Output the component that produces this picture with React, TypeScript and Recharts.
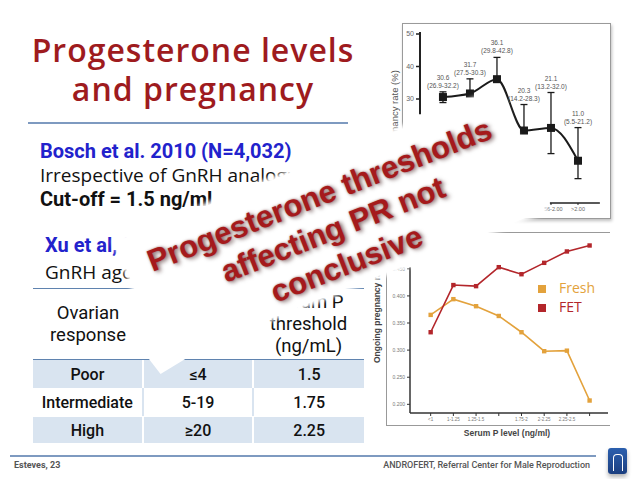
import React from "react";
import {
  LineChart,
  Line,
  XAxis,
  YAxis,
  ErrorBar,
  LabelList,
  ReferenceLine,
  Legend,
} from "recharts";

// Bosch et al. 2010 - pregnancy rate by P bin (top right panel)
const boschBins = ["≤0.50", "0.51-0.80", "0.81-1.10", "1.11-1.55", "1.56-2.00", ">2.00"];
const boschPR = [30.6, 31.7, 36.1, 20.3, 21.1, 11.0];
const boschCI = ["(26.9-32.2)", "(27.5-30.3)", "(29.8-42.8)", "(14.2-28.3)", "(13.2-32.0)", "(5.5-21.2)"];
// whiskers as drawn in the figure
const boschLow = [28.9, 31.7, 36.1, 20.3, 13.2, 5.5];
const boschHigh = [32.2, 36.2, 42.8, 28.3, 32.0, 21.2];

// Xu et al. - ongoing pregnancy rate by serum P (bottom right panel)
const pBins = ["<1", "1-1.25", "1.25-1.5", "1.5-1.75", "1.75-2", "2-2.25", "2.25-2.5", ">2.5"];
const pTickLabels = ["<1", "1-1.25", "1.25-1.5", "", "1.75-2", "2-2.25", "2.25-2.5", ""];
const fresh = [0.365, 0.394, 0.381, 0.363, 0.333, 0.298, 0.299, 0.207];
const fet = [0.333, 0.42, 0.418, 0.453, 0.44, 0.461, 0.482, 0.493];
const seriesOrder = ["Fresh", "FET"];

// table
const responses = ["Poor", "Intermediate", "High"];
const oocytes = ["≤4", "5-19", "≥20"];
const thresholds = ["1.5", "1.75", "2.25"];

const boschRows = boschPR.map((pr, i) => ({
  i,
  pr,
  err: [pr - boschLow[i], boschHigh[i] - pr],
  top: boschHigh[i],
}));

const pRows = pBins.map((b, i) => ({ i, bin: b, fresh: fresh[i], fet: fet[i] }));

const chartFont = "'Liberation Sans', Arial, sans-serif";

const blackSquare = (p: any) => (
  <rect key={`b${p.index}`} x={p.cx - 4} y={p.cy - 4} width={8} height={8} fill="#1a1a1a" />
);

const smallSquare = (color: string) => (p: any) => (
  <rect key={`${color}${p.index}`} x={p.cx - 2.2} y={p.cy - 2.2} width={4.4} height={4.4} fill={color} />
);

const ciLabel = (p: any) => {
  const { x, y, index } = p;
  return (
    <g key={`l${index}`} fontFamily={chartFont} fontSize={6.5} fill="#555">
      <text x={x} y={y - 12} textAnchor="middle">{boschPR[index].toFixed(1)}</text>
      <text x={x} y={y - 4} textAnchor="middle">{boschCI[index]}</text>
    </g>
  );
};

const abs = (l: number, t: number, extra: React.CSSProperties = {}): React.CSSProperties => ({
  position: "absolute",
  left: l,
  top: t,
  whiteSpace: "nowrap",
  ...extra,
});

const bodyFont = "'Open Sans', sans-serif";
const boldFont = "Roboto, sans-serif";

export default function App() {
  const rowBg = ["#D9E4F0", "#ffffff", "#D9E4F0"];
  return (
    <div
      style={{
        position: "absolute",
        left: 0,
        top: 0,
        width: 638,
        height: 479,
        overflow: "hidden",
        background: "#fff",
        fontFamily: bodyFont,
      }}
    >
      {/* title */}
      <div
        style={abs(0, 30, {
          width: 386,
          textAlign: "center",
          fontSize: 32,
          letterSpacing: 1,
          lineHeight: "39px",
          fontWeight: 600,
          color: "#9E1B1E",
        })}
      >
        Progesterone levels
        <br />
        and pregnancy
      </div>
      <div style={abs(28, 122, { width: 320, height: 2, background: "#7E9AC0" })} />

      {/* text block */}
      <div style={abs(40, 139, { fontFamily: boldFont, fontWeight: 700, fontSize: 20, lineHeight: "24px", color: "#2222CC" })}>
        Bosch et al. 2010 (N=4,032)
      </div>
      <div style={abs(40, 163, { fontSize: 19, lineHeight: "24px", color: "#111" })}>
        Irrespective of GnRH analogue
      </div>
      <div style={abs(40, 187, { fontFamily: boldFont, fontWeight: 700, fontSize: 20, lineHeight: "24px", color: "#111" })}>
        Cut-off = 1.5 ng/ml
      </div>
      <div style={abs(45, 233, { fontFamily: boldFont, fontWeight: 700, fontSize: 20, lineHeight: "24px", color: "#2222CC" })}>
        Xu et al, 2012
      </div>
      <div style={abs(45, 260, { fontSize: 19, lineHeight: "24px", color: "#111" })}>
        GnRH agonist
      </div>

      {/* table */}
      <div style={abs(33, 288, { width: 331 })}>
        <div
          style={{
            display: "flex",
            height: 70,
            borderTop: "1.5px solid #5F83AF",
            borderBottom: "1.5px solid #5F83AF",
            fontFamily: boldFont,
            fontSize: 18.5,
            lineHeight: "22px",
            color: "#111",
          }}
        >
          {[["Ovarian", "response"], ["Oocytes"], ["Serum P", "threshold", "(ng/mL)"]].map((h, k) => (
            <div
              key={k}
              style={{
                width: k === 2 ? 111 : 110,
                display: "flex",
                flexDirection: "column",
                alignItems: "center",
                justifyContent: "center",
              }}
            >
              {h.map((s) => (
                <span key={s}>{s}</span>
              ))}
            </div>
          ))}
        </div>
        {responses.map((r, k) => (
          <div
            key={r}
            style={{
              display: "flex",
              height: k === 2 ? 27 : 28,
              background: rowBg[k],
              fontFamily: boldFont,
              fontWeight: 500,
              fontSize: 16,
              color: "#111",
            }}
          >
            {[r, oocytes[k], thresholds[k]].map((c, j) => (
              <div
                key={j}
                style={{
                  width: j === 2 ? 111 : 110,
                  display: "flex",
                  alignItems: "center",
                  justifyContent: "center",
                  borderLeft: j === 0 ? "none" : `2px solid ${k === 1 ? "#D9E4F0" : "#fff"}`,
                  borderTop: k === 2 ? "1px solid #fff" : "none",
                }}
              >
                {c}
              </div>
            ))}
          </div>
        ))}
      </div>

      {/* top right figure frame */}
      <div
        style={abs(402, 23, {
          width: 207,
          height: 194,
          border: "1.5px solid #9a9a9a",
          boxShadow: "1px 2px 3px rgba(0,0,0,0.25)",
          background: "#fff",
        })}
      />
      <div
        style={abs(389, 152, {
          fontFamily: chartFont,
          fontSize: 9.5,
          color: "#555",
          transform: "rotate(-90deg)",
          transformOrigin: "0 0",
        })}
      >
        Pregnancy rate (%)
      </div>
      <div style={abs(380, 20)}>
        <LineChart
          width={230}
          height={200}
          data={boschRows}
          margin={{ top: 14, right: 5, bottom: 5, left: 0 }}
        >
          <XAxis
            type="number"
            dataKey="i"
            domain={[-0.85, 6]}
            ticks={[4, 5]}
            tickFormatter={(v) => boschBins[v]}
            axisLine={false}
            tickSize={2}
            tickLine={{ stroke: "#222" }}
            tick={{ fontSize: 5.5, fill: "#666", fontFamily: chartFont }}
            height={12}
            interval={0}
          />
          <YAxis
            type="number"
            domain={[-2, 50]}
            ticks={[30, 40, 50]}
            axisLine={false}
            tickSize={4}
            tickLine={{ stroke: "#222", strokeWidth: 1.5 }}
            tick={{ fontSize: 7, fill: "#666", fontFamily: chartFont }}
            width={40}
          />
          <ReferenceLine
            segment={[{ x: -0.85, y: 25.3 }, { x: -0.85, y: 50.6 }]}
            stroke="#222"
            strokeWidth={2}
            ifOverflow="visible"
          />
          <ReferenceLine
            segment={[{ x: 3.96, y: -2 }, { x: 5.81, y: -2 }]}
            stroke="#222"
            strokeWidth={1.5}
            ifOverflow="visible"
          />
          <Line
            dataKey="pr"
            type="monotone"
            stroke="#1a1a1a"
            strokeWidth={2}
            dot={blackSquare}
            activeDot={false}
            isAnimationActive={false}
          >
            <ErrorBar dataKey="err" width={3.5} strokeWidth={1.3} stroke="#1a1a1a" direction="y" />
          </Line>
          <Line dataKey="top" stroke="none" dot={false} activeDot={false} isAnimationActive={false}>
            <LabelList content={ciLabel} />
          </Line>
        </LineChart>
      </div>

      {/* bottom right figure */}
      <div
        style={abs(386, 232, {
          width: 223,
          height: 192,
          borderTop: "1.5px solid #999",
          borderLeft: "1.5px solid #999",
          borderBottom: "1.5px solid #999",
        })}
      />
      <div
        style={abs(372, 363, {
          fontFamily: chartFont,
          fontWeight: 700,
          fontSize: 8.5,
          color: "#444",
          transform: "rotate(-90deg)",
          transformOrigin: "0 0",
        })}
      >
        Ongoing pregnancy rate
      </div>
      <div style={abs(457, 428, { width: 100, textAlign: "center", fontFamily: chartFont, fontWeight: 700, fontSize: 8.5, color: "#444" })}>
        Serum P level (ng/ml)
      </div>
      <div style={abs(370, 225)}>
        <LineChart
          width={240}
          height={215}
          data={pRows}
          margin={{ top: 16.7, right: 2, bottom: 17, left: 0 }}
        >
          <XAxis
            type="number"
            dataKey="i"
            domain={[-0.91, 7.81]}
            ticks={[0, 1, 2, 3, 4, 5, 6, 7]}
            tickFormatter={(v) => pTickLabels[v]}
            axisLine={{ stroke: "#333", strokeWidth: 1.5 }}
            tickLine={{ stroke: "#333" }}
            tickSize={3}
            tick={{ fontSize: 4.5, fill: "#777", fontFamily: chartFont }}
            height={10}
            interval={0}
          />
          <YAxis
            type="number"
            domain={[0.184, 0.5]}
            ticks={[0.2, 0.25, 0.3, 0.35, 0.4, 0.45]}
            tickFormatter={(v) => Number(v).toFixed(3)}
            axisLine={false}
            tickSize={3}
            tickLine={{ stroke: "#333" }}
            tick={{ fontSize: 5, fill: "#777", fontFamily: chartFont }}
            width={40}
          />
          <ReferenceLine
            segment={[{ x: -0.91, y: 0.184 }, { x: -0.91, y: 0.453 }]}
            stroke="#333"
            strokeWidth={1.5}
            ifOverflow="visible"
          />
          <Legend
            layout="vertical"
            align="center"
            verticalAlign="middle"
            iconType="square"
            iconSize={8}
            itemSorter={(item: any) => seriesOrder.indexOf(item.value)}
            formatter={(value) => <span style={{ marginLeft: 9 }}>{value}</span>}
            wrapperStyle={{ left: 168, top: 53, width: 70, fontSize: 14, lineHeight: "19px", fontFamily: bodyFont }}
          />
          <Line
            dataKey="fresh"
            name="Fresh"
            stroke="#E3A23C"
            strokeWidth={1.6}
            dot={smallSquare("#E3A23C")}
            activeDot={false}
            isAnimationActive={false}
          />
          <Line
            dataKey="fet"
            name="FET"
            stroke="#B3262B"
            strokeWidth={1.6}
            dot={smallSquare("#B3262B")}
            activeDot={false}
            isAnimationActive={false}
          />
        </LineChart>
      </div>

      {/* white callout behind the stamp */}
      <div
        style={abs(330.4 - 205, 226 - 64, {
          width: 410,
          height: 128,
          background: "#fff",
          transform: "rotate(-21.5deg)",
          boxShadow: "0 0 4px 3px #fff",
        })}
      />
      <div
        style={abs(142, 350, {
          width: 58,
          height: 24,
          background: "#fff",
          clipPath: "polygon(0 0, 100% 0, 32% 100%)",
        })}
      />
      <div
        style={abs(333 - 220, 229 - 55.5, {
          width: 440,
          height: 111,
          textAlign: "center",
          fontFamily: "'Liberation Sans', Arial, sans-serif",
          fontWeight: 700,
          fontSize: 31,
          lineHeight: "37px",
          color: "#A51A1C",
          transform: "rotate(-21.5deg)",
          textShadow: "2px 2px 4px rgba(40,0,0,0.55), 0 0 2px rgba(120,0,0,0.5)",
        })}
      >
        Progesterone thresholds
        <br />
        affecting PR not
        <br />
        conclusive
      </div>

      {/* footer */}
      <div style={abs(10, 455, { width: 586, height: 2, background: "#7E9AC0" })} />
      <div style={abs(14, 460, { fontFamily: boldFont, fontWeight: 700, fontSize: 9, color: "#555" })}>
        Esteves, 23
      </div>
      <div style={abs(300, 460, { width: 290, textAlign: "right", fontFamily: boldFont, fontWeight: 500, fontSize: 9, color: "#555" })}>
        ANDROFERT, Referral Center for Male Reproduction
      </div>
      <div
        style={abs(608, 448, {
          width: 19,
          height: 26,
          borderRadius: 3,
          background: "linear-gradient(#2B5FAE, #1C3F80)",
          boxShadow: "0 3px 4px rgba(0,0,0,0.3)",
        })}
      >
        <div
          style={{
            position: "absolute",
            left: 5,
            top: 6,
            width: 8,
            height: 16,
            borderTop: "1.5px solid #fff",
            borderLeft: "1.5px solid #fff",
            borderRight: "1.5px solid #fff",
            borderRadius: "4px 4px 0 0",
          }}
        />
      </div>
    </div>
  );
}
